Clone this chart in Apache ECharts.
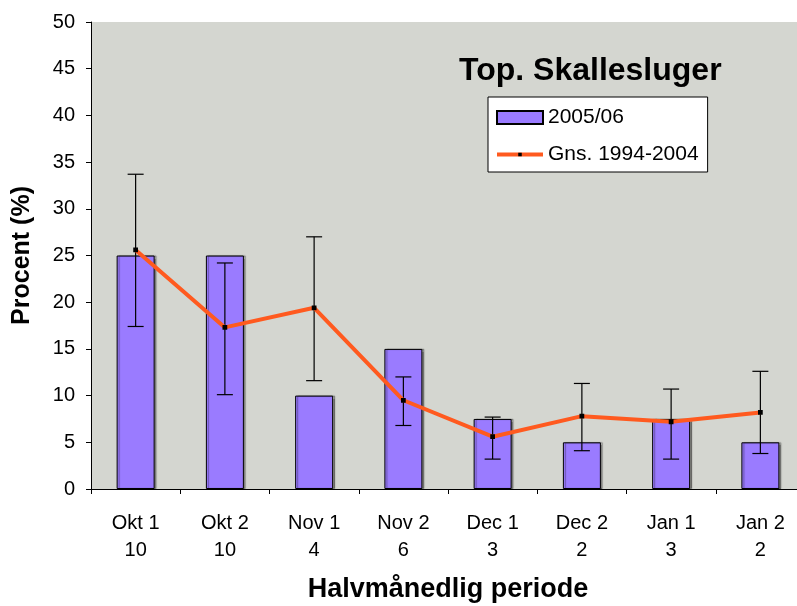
<!DOCTYPE html>
<html>
<head>
<meta charset="utf-8">
<script src="https://cdn.jsdelivr.net/npm/echarts@6/dist/echarts.min.js"></script>
<style>
html,body{margin:0;padding:0;background:#fff;overflow:hidden;width:797px;height:606px;}
#chart{width:806px;height:606px;}
</style>
</head>
<body>
<div id="chart"></div>
<script>
const periods = ['Okt 1','Okt 2','Nov 1','Nov 2','Dec 1','Dec 2','Jan 1','Jan 2'];
const counts = [10, 10, 4, 6, 3, 2, 3, 2];
const season2005 = [25, 25, 10, 15, 7.5, 5, 7.5, 5];
const avg1994 = [25.6, 17.3, 19.4, 9.5, 5.6, 7.8, 7.2, 8.2];
const errLow = [17.4, 10.1, 11.6, 6.8, 3.2, 4.1, 3.2, 3.8];
const errHigh = [33.7, 24.2, 27.0, 12.0, 7.7, 11.3, 10.7, 12.6];
const yTicks = [0, 5, 10, 15, 20, 25, 30, 35, 40, 45, 50];

const FONT = 'Liberation Sans, Arial, sans-serif';
const chart = echarts.init(document.getElementById('chart'), null, {renderer: 'canvas'});

const categories = periods.map((p, i) => p + '\n' + counts[i]);
const errData = periods.map((p, i) => [i, errLow[i], errHigh[i]]);
// small centred square marker inside a larger (empty) box
const markerPath = 'path://M0,0 L0.01,0 M10,10 L10.01,10 M3.3,3.3 L6.7,3.3 L6.7,6.7 L3.3,6.7 Z';

chart.setOption({
  animation: false,
  backgroundColor: '#ffffff',
  textStyle: {fontFamily: FONT},
  title: {
    text: 'Top. Skallesluger',
    left: 454, top: 50,
    textStyle: {fontFamily: FONT, fontSize: 32, fontWeight: 'bold', color: '#000'}
  },
  legend: {
    orient: 'vertical',
    left: 488, top: 97,
    backgroundColor: '#ffffff',
    borderColor: '#000', borderWidth: 1, borderRadius: 0,
    padding: [10, 9, 7, 7],
    itemWidth: 46, itemHeight: 13, itemGap: 16,
    textStyle: {fontFamily: FONT, fontSize: 21, color: '#000'},
    data: [
      {name: '2005/06', icon: 'rect'},
      {name: 'Gns. 1994-2004', lineStyle: {width: 4}}
    ]
  },
  grid: {
    left: 91, top: 22, width: 714, bottom: 117,
    outerBoundsMode: 'none', containLabel: false,
    show: true, backgroundColor: '#D4D6D0', borderWidth: 0
  },
  xAxis: {
    type: 'category',
    data: categories,
    boundaryGap: true,
    axisLine: {lineStyle: {color: '#000', width: 1}},
    axisTick: {show: true, length: 5, alignWithLabel: false, lineStyle: {color: '#000'}},
    axisLabel: {fontFamily: FONT, fontSize: 20, color: '#000', lineHeight: 27, margin: 21, interval: 0},
    name: 'Halvmånedlig periode',
    nameLocation: 'middle',
    nameGap: 87,
    nameTextStyle: {fontFamily: FONT, fontSize: 27, fontWeight: 'bold', color: '#000'}
  },
  yAxis: {
    type: 'value',
    min: yTicks[0], max: yTicks[yTicks.length - 1], interval: 5,
    splitLine: {show: false},
    axisLine: {show: true, lineStyle: {color: '#000', width: 1}},
    axisTick: {show: true, length: 5, inside: false, lineStyle: {color: '#000'}},
    axisLabel: {fontFamily: FONT, fontSize: 20, color: '#000', margin: 16},
    name: 'Procent (%)',
    nameLocation: 'middle',
    nameGap: 56,
    nameTextStyle: {fontFamily: FONT, fontSize: 25, fontWeight: 'bold', color: '#000'}
  },
  series: [
    {
      name: '2005/06',
      type: 'bar',
      data: season2005,
      barWidth: 38,
      itemStyle: {color: '#9A7BFF', borderColor: '#000', borderWidth: 1,
        shadowColor: 'rgba(0,0,0,0.35)', shadowOffsetX: 2, shadowOffsetY: 0, shadowBlur: 1},
      z: 2
    },
    {
      name: 'Gns. 1994-2004',
      type: 'line',
      data: avg1994,
      symbol: markerPath, symbolSize: 14,
      lineStyle: {color: '#FF5A1F', width: 4},
      itemStyle: {color: '#000', borderWidth: 0},
      z: 4
    },
    {
      name: 'err',
      type: 'custom',
      data: errData,
      z: 3,
      renderItem: function (params, api) {
        const x = api.value(0);
        const lo = api.coord([x, api.value(1)]);
        const hi = api.coord([x, api.value(2)]);
        const cap = 8;
        const style = {stroke: '#000', lineWidth: 1.2};
        return {
          type: 'group',
          children: [
            {type: 'line', shape: {x1: lo[0], y1: lo[1], x2: hi[0], y2: hi[1]}, style: style},
            {type: 'line', shape: {x1: lo[0] - cap, y1: lo[1], x2: lo[0] + cap, y2: lo[1]}, style: style},
            {type: 'line', shape: {x1: hi[0] - cap, y1: hi[1], x2: hi[0] + cap, y2: hi[1]}, style: style}
          ]
        };
      }
    }
  ]
});
</script>
</body>
</html>
